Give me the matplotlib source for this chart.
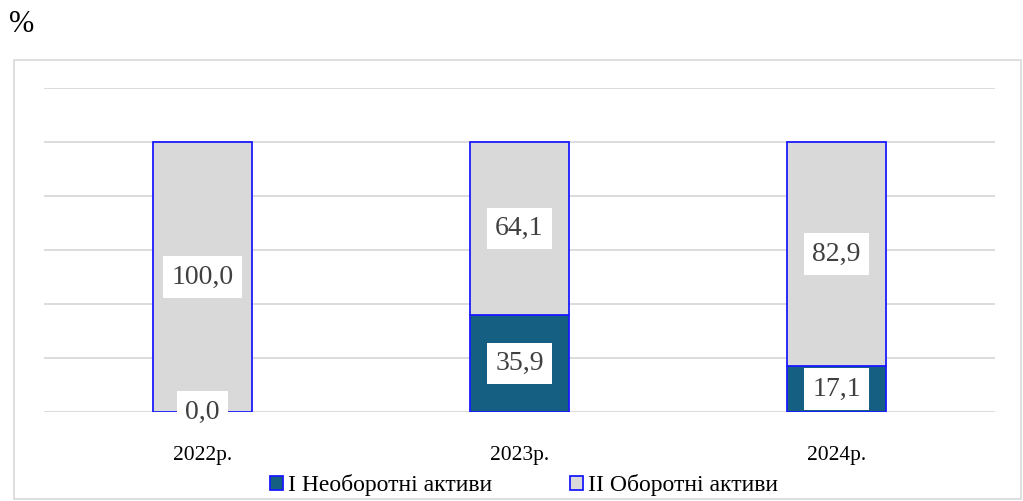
import numpy as np
import matplotlib.pyplot as plt
from matplotlib.patches import Rectangle

plt.rcParams['font.family'] = ['Liberation Serif', 'DejaVu Serif']

# Data
YEARS = ['2022р.', '2023р.', '2024р.']
NONCURRENT = [0.0, 35.9, 17.1]
CURRENT = [100.0, 64.1, 82.9]
LABELS = ['I Необоротні активи', 'II Оборотні активи']

fig = plt.figure(figsize=(10.23, 5.01), dpi=100)
ax = fig.add_axes([44/1023, 1-412/501, (995-44)/1023, (412-88)/501])

# Outer frame
fig.patches.append(Rectangle((14/1023, 1-499/501), (1021-14)/1023, (499-60)/501,
                             transform=fig.transFigure, fill=False,
                             edgecolor='#d9d9d9', linewidth=1.2))

x = np.arange(len(YEARS))
w = 0.31
b1 = ax.bar(x, NONCURRENT, w, color='#156082', edgecolor='#1a1aff', linewidth=1.3,
            label=LABELS[0], zorder=3)
b2 = ax.bar(x, CURRENT, w, bottom=NONCURRENT, color='#d9d9d9', edgecolor='#1a1aff',
            linewidth=1.3, label=LABELS[1], zorder=3)

box = dict(boxstyle='square,pad=0.3', facecolor='white', edgecolor='none')
for i in range(len(YEARS)):
    ax.text(x[i], NONCURRENT[i] / 2, f'{NONCURRENT[i]:.1f}'.replace('.', ','),
            ha='center', va='center', fontsize=20, color='#404040', bbox=box, zorder=5)
    ax.text(x[i], NONCURRENT[i] + CURRENT[i] / 2, f'{CURRENT[i]:.1f}'.replace('.', ','),
            ha='center', va='center', fontsize=20, color='#404040', bbox=box, zorder=5)

ax.set_xlim(-0.5, 2.5)
ax.set_ylim(0, 120)
ax.set_yticks(np.arange(0, 121, 20))
ax.yaxis.grid(True, color='#d9d9d9', linewidth=1.3, zorder=0)
ax.set_yticklabels([])
ax.tick_params(left=False, bottom=False)
ax.set_xticks(x)
ax.set_xticklabels(YEARS, fontsize=15.5)
ax.tick_params(axis='x', pad=21)
for s in ax.spines.values():
    s.set_visible(False)

fig.legend(loc='center', bbox_to_anchor=(524/1023, 1-485/501), ncol=2, frameon=False,
           fontsize=17, handlelength=0.55, handleheight=0.55, handletextpad=0.2,
           columnspacing=3.3)

fig.text(9/1023, 1-25/501, '%', fontsize=22, va='center', ha='left')

fig.savefig('out.png', dpi=100)
